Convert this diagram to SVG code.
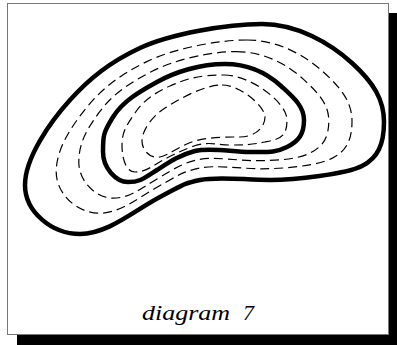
<svg xmlns="http://www.w3.org/2000/svg" width="397" height="345" viewBox="0 0 397 345">
<style>
.thick{fill:none;stroke:#000;stroke-width:4.5;stroke-linejoin:round}
.dash{fill:none;stroke:#000;stroke-width:1.2;stroke-dasharray:9 5}
.cap{font-family:"Liberation Serif",serif;font-style:italic;font-size:22px;fill:#000}
</style>
<rect x="0" y="0" width="397" height="345" fill="#fff"/>
<rect id="shadow" x="17" y="13" width="381" height="333" fill="#000"/>
<rect id="frame" x="7.5" y="3.5" width="381" height="331" fill="#fff" stroke="#777" stroke-width="1"/>
<g id="contours">
<path id="outer" class="thick" d="M262,24 C297,24 330,43 352,63 S384,100 384,122 S378,158 362,166 S295,180 270,180 S218,176 200,180 S185,184 160,197 S108,234 80,234 S25,212 25,185 S50,122 70,100 S110,62 140,48 S227,24 262,24 Z"/>
<path id="d1" class="dash" d="M247.2,40 C278.2,40 305.6,55.8 323.6,72.2 S352,102.4 352,121.2 S346.4,151.2 332,158.4 S284.2,168.8 262,168.8 S214.8,164.4 198,168.4 S179.4,174.8 158.8,186.2 S120.8,213.2 99.2,213.2 S56.2,194.4 56.2,171.8 S71.2,126.4 87.2,106.8 S121.6,74 146.8,61.6 S216.2,40 247.2,40 Z"/>
<path id="d2" class="dash" d="M236.5,51.6 C264.6,51.6 287.9,65.1 303,78.9 S328.8,104.1 328.8,120.6 S323.5,146.3 310.3,152.9 S276.4,160.7 256.2,160.7 S212.5,156 196.6,160 S175.3,168.2 157.9,178.4 S130.1,198.1 113.1,198.1 S78.8,181.6 78.8,162.2 S86.6,129.6 99.7,111.7 S130,82.7 151.7,71.5 S208.4,51.6 236.5,51.6 Z"/>
<path id="inner" class="thick" d="M225,64 C250,64 269,75 281,86 S304,106 304,120 S299,141 287,147 S268,152 250,152 S210,147 195,151 S171,161 157,170 S140,182 128,182 S103,168 103,152 S103,133 113,117 S139,92 157,82 S200,64 225,64 Z"/>
<path id="d3" class="dash" d="M224,75 C250,75 287,102 287,120 S279,139 265,142 S242,145 230,145 S208,141 194,146 S168,157 158,163 S144,172 135,172 S122,159 122,145 S127,125 135,113 S154,93 170,86 S198,75 224,75 Z"/>
<path id="d4" class="dash" d="M222,85 C240,85 265,106 265,117 S254,137 240,137 S209,137 195,141 S169,155 160,157 S142,151 142,141 S151,117 165,108 S204,85 222,85 Z"/>
</g>
<g id="caption" class="cap">
<text x="142" y="320" textLength="88" lengthAdjust="spacingAndGlyphs">diagram</text>
<text x="243" y="320">7</text>
</g>
</svg>
